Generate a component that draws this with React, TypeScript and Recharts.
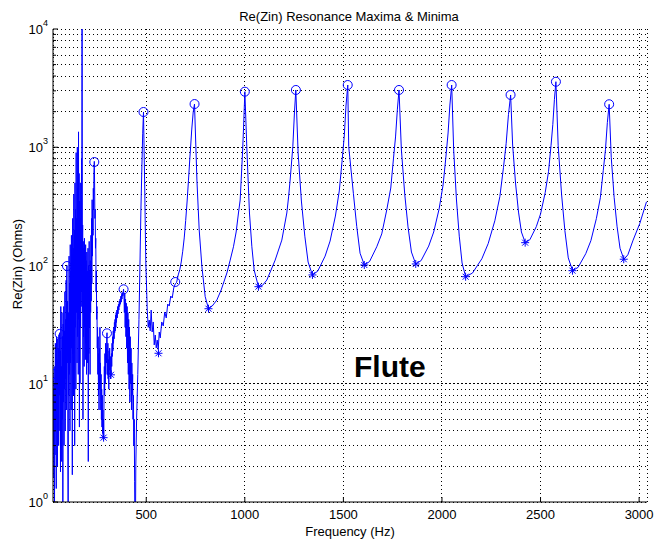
import React from 'react'
import { ComposedChart, Line, Scatter, XAxis, YAxis, CartesianGrid, ReferenceLine } from 'recharts'

const W = 656
const H = 541
const FONT = '"Liberation Sans", Arial, Helvetica, sans-serif'
const BLUE = '#0000ff'

// axis ticks
const freqTicks = [500, 1000, 1500, 2000, 2500, 3000]
const ohmTicks = [
  1, 2, 3, 4, 5, 6, 7, 8, 9, 10, 20, 30, 40, 50, 60, 70, 80, 90, 100, 200, 300, 400, 500, 600, 700, 800, 900,
  1000, 2000, 3000, 4000, 5000, 6000, 7000, 8000, 9000, 10000,
]
const decades = [10, 100, 1000]

// Re(Zin) curve, [Hz, Ohms] - noisy low register
const band0to490: [number, number][] = [
  [27, 12], [28.5, 3], [30, 9], [31.5, 1.6], [33, 14], [34.5, 0.6], [36, 10], [37.5, 2.5], [39, 22], [40.5, 4],
  [42, 18], [43.5, 1.3], [45, 25], [46.5, 5], [48, 16], [49.5, 2], [51, 24], [52.5, 6], [54, 20], [55.5, 3],
  [57, 26], [58.5, 8], [60.5, 27], [62, 4], [63.5, 19], [65, 1.8], [66.5, 45], [68, 6], [69.5, 14], [71, 2.2],
  [72.5, 40], [74, 5], [75.5, 25], [77, 0.5], [78.5, 32], [80, 7], [81.5, 45], [83, 3], [84.5, 28], [86, 9],
  [87.5, 60], [89, 4], [90.5, 35], [92, 11], [93.5, 75], [95, 6], [96.5, 85], [98, 100], [99.5, 15], [101, 50],
  [102.5, 2.5], [104, 0.5], [105.5, 40], [107, 8], [108.5, 120], [110, 12], [111.5, 70], [113, 4], [114.5, 150],
  [116, 15], [117.5, 90], [119, 6], [120.5, 180], [122, 20], [123.5, 110], [125, 1.7], [126.5, 250], [128, 18],
  [129.5, 140], [131, 8], [132.5, 400], [134, 25], [135.5, 200], [137, 3], [138.5, 500], [140, 30], [141.5, 300],
  [143, 9], [144.5, 900], [146, 40], [147.5, 250], [149, 15], [150.5, 1000], [152, 25], [153.5, 450], [155, 12],
  [156.5, 1350], [158, 35], [159.5, 600], [161, 4.3], [162.5, 350], [164, 10], [165.5, 500], [167, 30],
  [168.5, 250], [170, 45], [171.5, 800], [173, 60], [174.5, 30000], [176, 40], [177.5, 220], [179, 5],
  [180.5, 160], [182, 25], [183.5, 140], [185, 14], [186.5, 170], [188, 30], [189.5, 120], [191, 16],
  [192.5, 150], [194, 22], [195.5, 110], [197, 12], [198.5, 130], [200, 28], [201.5, 90], [203, 15],
  [204.5, 140], [206, 2.2], [207.5, 100], [209, 18], [210.5, 160], [212, 30], [213.5, 90], [215, 12],
  [216.5, 110], [218, 40], [219.5, 180], [221, 50], [222.5, 250], [224, 70], [225.5, 360], [227, 120],
  [228.5, 300], [230, 180], [231.5, 450], [233, 300], [234.5, 600], [236.5, 760], [238, 500], [239.5, 250],
  [241, 300], [242.5, 140], [244, 170], [245.5, 60], [247, 90], [248.5, 35], [250, 45], [251.5, 20], [253, 30],
  [254.5, 12], [256, 25], [257.5, 8], [259, 18], [260.5, 6], [262, 20], [263.5, 9], [265, 30], [266.5, 10],
  [268, 15], [269.5, 6], [271, 12], [272.5, 5], [274, 9], [275.5, 4.3], [277, 8], [278.5, 3.8], [280, 6],
  [281.5, 3.5], [283, 5], [284.5, 3.6], [286, 9], [287.5, 14], [289, 8], [290.5, 18], [292, 10], [293.5, 22],
  [295, 12], [296.5, 20], [298, 15], [299.5, 25], [301, 27], [302.5, 18], [304, 12], [305.5, 22], [307, 11],
  [308.5, 16], [310, 9], [311.5, 19], [313, 13], [314.5, 20], [316, 12], [317.5, 17], [319, 11], [320.5, 13],
  [322, 12], [323.5, 18], [325, 14], [326.5, 22], [328, 17], [329.5, 25], [331, 19], [332.5, 28], [334, 22],
  [335.5, 30], [337, 24], [338.5, 33], [340, 27], [341.5, 35], [343, 28], [344.5, 38], [346, 30], [347.5, 40],
  [349, 33], [351, 42], [353, 36], [355, 45], [357, 39], [359, 47], [361, 42], [363, 50], [365, 45], [367, 52],
  [369, 47], [371, 55], [373, 49], [375, 57], [377, 52], [379, 59], [381, 55], [383, 60], [385, 63], [387, 55],
  [389, 40], [391, 58], [393, 30], [395, 52], [397, 25], [399, 48], [401, 20], [403, 45], [405, 15], [407, 40],
  [409, 12], [411, 35], [413, 9], [415, 30], [417, 7], [419, 25], [421, 10], [423, 20], [425, 6], [427, 15],
  [429, 8], [431, 12], [433, 5], [435, 8], [437, 3], [439, 5], [441, 1.5], [443, 0.4], [445, 0.5], [447, 2],
  [451, 5], [457, 12], [463, 35], [468, 100], [473, 300], [478, 700], [482, 1300], [486, 1987],
]

// first two clean resonances
const band490to1000: [number, number][] = [
  [492.4, 435], [497.5, 111], [505, 42], [510, 30], [515, 34.6], [520, 28], [525, 42], [530, 27.4], [535.5, 33.3],
  [540.5, 21.3], [545.6, 25.8], [550.7, 20.1], [555.7, 23.4], [560.8, 19.5], [565.9, 27.4], [571, 24.4],
  [578.6, 33.3], [586.2, 30.8], [593.8, 40.4], [601.4, 36], [609, 47.2], [616.6, 45.4], [624.2, 55.2],
  [631.8, 53.1], [639.4, 64.5], [647, 69.8], [654, 72], [662.2, 83.2], [670, 92], [677.4, 107], [685, 132],
  [692.6, 171], [700, 240], [707.8, 358], [714, 520], [720.5, 780], [725, 1000], [730.6, 1400], [738.2, 1987],
  [744.8, 2320], [757, 528], [768.6, 200], [782.3, 97.7], [799, 54.5], [815.7, 43.1], [834.5, 45.4],
  [858.3, 51.1], [880, 62.1], [909, 86.4], [925.7, 111], [942.4, 144], [956, 192], [967.8, 278], [976.4, 358],
  [981.5, 528], [989, 948], [993.1, 1400], [1000.2, 2950],
]

const band1000to2050: [number, number][] = [
  [1010, 1011], [1023.5, 278], [1035.7, 144], [1047.3, 91.6], [1069, 66.2], [1090, 68], [1111.7, 75.4],
  [1153.8, 111], [1187.7, 164], [1213, 278], [1222, 380], [1229.8, 528], [1243.5, 1011], [1251.6, 1950],
  [1258.7, 3050], [1270.3, 896], [1287, 351], [1304.3, 177], [1321, 107], [1342.8, 83.2], [1369.7, 89.5],
  [1407.2, 120], [1432.5, 161], [1459.4, 262], [1479.1, 427], [1493.3, 765], [1504.5, 1245], [1513.1, 2233],
  [1522.2, 3360], [1527, 1011], [1550.6, 408], [1567.8, 213], [1584.6, 127], [1606.3, 101], [1632.7, 108],
  [1669.2, 144], [1694.5, 185], [1719.9, 295], [1740.2, 452], [1753.3, 780], [1764.5, 1222], [1773.6, 2070],
  [1782.2, 3050], [1793.9, 967], [1811.1, 402], [1827.8, 212], [1845.1, 130], [1866.8, 103], [1894.2, 110],
  [1932.7, 146], [1958, 192], [1985.4, 300], [2005.7, 480], [2019.9, 827], [2031, 1320], [2040.2, 2276],
  [2049.3, 3360],
]

const band2050to3040: [number, number][] = [
  [2059.4, 948], [2073.6, 358], [2087.8, 177], [2102, 105], [2120.2, 80.4], [2154.7, 86.3], [2202.3, 114],
  [2234.3, 153], [2268.2, 239], [2293.6, 382], [2311.8, 671], [2325.5, 1072], [2337.2, 1884], [2348.3, 2767],
  [2358.4, 1045], [2373.6, 489], [2388.3, 283], [2403, 192], [2422.3, 156], [2445.6, 165], [2478.5, 213],
  [2500.3, 274], [2523.6, 413], [2540.4, 621], [2553.1, 1030], [2562.2, 1552], [2570.3, 2524], [2577.9, 3583],
  [2589.5, 1030], [2606.8, 397], [2623.5, 197], [2640.7, 116], [2662.5, 90.4], [2690.4, 96.4], [2729.4, 126],
  [2755.3, 162], [2783.1, 249], [2803.4, 374], [2818.1, 634], [2829.3, 953], [2838.9, 1614], [2848, 2307],
  [2858.6, 822], [2873.3, 377], [2888, 215], [2903.2, 140], [2922.5, 113], [2942.8, 123], [2969.6, 164],
  [3003.6, 227], [3037.5, 346],
]

// detected maxima (o) and minima (*)
const maxHz = [27, 60.6, 98, 236.5, 300.8, 385, 486, 647, 745, 1000, 1259, 1522, 1782, 2049, 2348, 2578, 2848]
const maxOhms = [12.1, 26.4, 99, 750, 26.7, 62.9, 1987, 72.5, 2320, 2950, 3050, 3360, 3050, 3360, 2770, 3580, 2310]
const minHz = [283.6, 321, 562, 815.7, 1069, 1343, 1606, 1867, 2120, 2422, 2662, 2922]
const minOhms = [3.5, 11.9, 18.1, 43.1, 66.2, 83.2, 101, 103, 80.4, 156, 90.4, 113]

const curve = [...band0to490, ...band490to1000, ...band1000to2050, ...band2050to3040].map(([f, z]) => ({ f, z }))
const maxima = maxHz.map((f, i) => ({ f, z: maxOhms[i] }))
const minima = minHz.map((f, i) => ({ f, z: minOhms[i] }))

const isDecade = (v: number) => Math.abs(Math.log10(v) - Math.round(Math.log10(v))) < 1e-9

const BottomTick = ({ x, y, payload }: any) => (
  <g>
    <line x1={x} x2={x} y1={y} y2={y - 5} stroke='#000' />
    <text x={x} y={y + 17} textAnchor='middle' fontSize={13} fontFamily={FONT} fill='#000'>
      {payload.value}
    </text>
  </g>
)

const TopTick = ({ x, y }: any) => <line x1={x} x2={x} y1={y} y2={y + 5} stroke='#000' />

const LeftTick = ({ x, y, payload }: any) => {
  const v = payload.value
  const major = isDecade(v)
  return (
    <g>
      <line x1={x} x2={x + (major ? 5 : 3)} y1={y} y2={y} stroke='#000' />
      {major && (
        <text x={x - 5} y={y + 5} textAnchor='end' fontSize={13} fontFamily={FONT} fill='#000'>
          10
          <tspan fontSize={9} dy={-8}>
            {Math.round(Math.log10(v))}
          </tspan>
        </text>
      )}
    </g>
  )
}

const RightTick = ({ x, y, payload }: any) => (
  <line x1={x} x2={x - (isDecade(payload.value) ? 5 : 3)} y1={y} y2={y} stroke='#000' />
)

const Ring = ({ cx, cy }: any) => <circle cx={cx} cy={cy} r={4.5} fill='none' stroke={BLUE} />

const Star = ({ cx, cy }: any) => (
  <g stroke={BLUE}>
    <line x1={cx - 4} x2={cx + 4} y1={cy} y2={cy} />
    <line x1={cx} x2={cx} y1={cy - 4} y2={cy + 4} />
    <line x1={cx - 3} x2={cx + 3} y1={cy - 3} y2={cy + 3} />
    <line x1={cx - 3} x2={cx + 3} y1={cy + 3} y2={cy - 3} />
  </g>
)

export default function App() {
  return (
    <div style={{ position: 'absolute', left: 0, top: 0, width: W, height: H, background: '#fff' }}>
      <ComposedChart width={W} height={H} data={curve} margin={{ top: 29, right: 9, bottom: 0, left: 0 }}>
        <CartesianGrid strokeDasharray='1 3' stroke='#000' shapeRendering='crispEdges' />
        {decades.map((d) => (
          <ReferenceLine key={d} y={d} stroke='#000' strokeDasharray='2 2' shapeRendering='crispEdges' />
        ))}
        <XAxis
          dataKey='f'
          type='number'
          domain={[27, 3040]}
          allowDataOverflow
          ticks={freqTicks}
          interval={0}
          height={39}
          tickSize={0}
          tickMargin={0}
          tickLine={false}
          tick={<BottomTick />}
          axisLine={{ stroke: '#000' }}
        />
        <XAxis
          xAxisId='top'
          orientation='top'
          dataKey='f'
          type='number'
          domain={[27, 3040]}
          allowDataOverflow
          ticks={freqTicks}
          interval={0}
          height={0}
          tickSize={0}
          tickMargin={0}
          tickLine={false}
          tick={<TopTick />}
          axisLine={{ stroke: '#000' }}
        />
        <YAxis
          scale='log'
          type='number'
          domain={[1, 10000]}
          allowDataOverflow
          ticks={ohmTicks}
          interval={0}
          width={53}
          tickSize={0}
          tickMargin={0}
          tickLine={false}
          tick={<LeftTick />}
          axisLine={{ stroke: '#000' }}
        />
        <YAxis
          yAxisId='right'
          orientation='right'
          scale='log'
          type='number'
          domain={[1, 10000]}
          allowDataOverflow
          ticks={ohmTicks}
          interval={0}
          width={0}
          tickSize={0}
          tickMargin={0}
          tickLine={false}
          tick={<RightTick />}
          axisLine={{ stroke: '#000' }}
        />
        <Line dataKey='z' type='linear' stroke={BLUE} strokeWidth={1} dot={false} isAnimationActive={false} />
        <Scatter data={maxima} dataKey='z' shape={<Ring />} isAnimationActive={false} />
        <Scatter data={minima} dataKey='z' shape={<Star />} isAnimationActive={false} />
      </ComposedChart>
      <svg width={W} height={H} style={{ position: 'absolute', left: 0, top: 0, pointerEvents: 'none' }}>
        <g fontFamily={FONT} fill='#000'>
          <text x={349} y={21} textAnchor='middle' fontSize={13}>
            Re(Zin) Resonance Maxima &amp; Minima
          </text>
          <text transform='translate(22,264) rotate(-90)' textAnchor='middle' fontSize={13}>
            Re(Zin) (Ohms)
          </text>
          <text x={350} y={536} textAnchor='middle' fontSize={13}>
            Frequency (Hz)
          </text>
          <text x={354} y={377} fontSize={30} fontWeight='bold'>
            Flute
          </text>
        </g>
      </svg>
    </div>
  )
}
